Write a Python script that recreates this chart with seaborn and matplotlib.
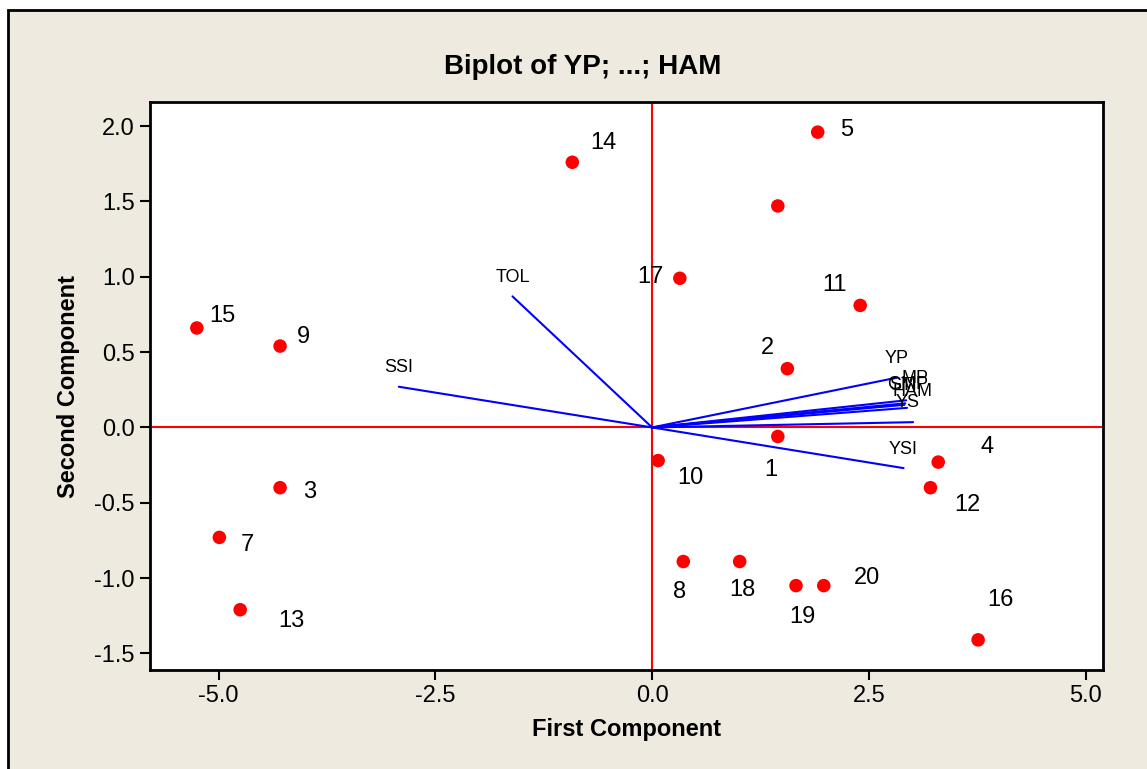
import matplotlib
matplotlib.use("Agg")
import matplotlib.pyplot as plt
import seaborn as sns
import pandas as pd
from matplotlib.patches import Rectangle

# ---- data ----
obs_labels = ["1", "2", "3", "4", "5", "6", "7", "8", "9", "10",
              "11", "12", "13", "14", "15", "16", "17", "18", "19", "20"]
pc1 = [1.45, 1.56, -4.29, 3.30, 1.91, 1.45, -4.99, 0.36, -4.29, 0.07,
       2.40, 3.21, -4.75, -0.92, -5.25, 3.76, 0.32, 1.01, 1.66, 1.98]
pc2 = [-0.06, 0.39, -0.40, -0.23, 1.96, 1.47, -0.73, -0.89, 0.54, -0.22,
       0.81, -0.40, -1.21, 1.76, 0.66, -1.41, 0.99, -0.89, -1.05, -1.05]
show_label = [True, True, True, True, True, False, True, True, True, True,
              True, True, True, True, True, True, True, True, True, True]

var_names = ["YP", "YS", "TOL", "MP", "GMP", "SSI", "STI", "YSI", "HAM"]
load1 = [2.82, 3.01, -1.61, 2.93, 2.92, -2.92, 2.91, 2.90, 2.94]
load2 = [0.33, 0.035, 0.87, 0.18, 0.16, 0.27, 0.15, -0.27, 0.13]

xticks = [-5.0, -2.5, 0.0, 2.5, 5.0]
yticks = [-1.5, -1.0, -0.5, 0.0, 0.5, 1.0, 1.5, 2.0]

# ---- layout (label offsets in pixels, x right / y up) ----
label_offsets = {
    "1": (-7, -34), "2": (-20, 21), "3": (30, -4), "4": (49, 15), "5": (29, 2),
    "7": (28, -8), "8": (-4, -30), "9": (23, 9), "10": (32, -17), "11": (-26, 20),
    "12": (37, -17), "13": (51, -11), "14": (31, 19), "15": (26, 12), "16": (22, 40),
    "17": (-29, 1), "18": (3, -28), "19": (6, -31), "20": (43, 8),
}
var_offsets = {"YS": (-5, 20), "MP": (9, 22), "GMP": (2, 19), "STI": (-1, 19), "HAM": (5, 16)}

df = pd.DataFrame({"pc1": pc1, "pc2": pc2, "label": obs_labels})

sns.set_theme(style="white")
plt.rcParams["font.family"] = ["Liberation Sans", "DejaVu Sans"]
plt.rcParams["text.color"] = "black"
plt.rcParams["axes.labelcolor"] = "black"
plt.rcParams["xtick.color"] = "black"
plt.rcParams["ytick.color"] = "black"

W, H = 1147, 769
fig = plt.figure(figsize=(W / 100, H / 100), dpi=100, facecolor="white")
fig.patches.append(Rectangle((8 / W, -0.05), 1.2, 1 - 10 / H + 0.05,
                             transform=fig.transFigure, facecolor="#EEEAE0",
                             edgecolor="black", linewidth=2, zorder=-10))
ax = fig.add_axes([150 / W, 1 - 670 / H, (1103 - 150) / W, (670 - 102) / H])
ax.set_facecolor("white")

ax.axhline(0, color="red", lw=1.5, zorder=1)
ax.axvline(0, color="red", lw=1.5, zorder=1)

for name, x, y in zip(var_names, load1, load2):
    ax.plot([0, x], [0, y], color="#0000FF", lw=1.5, zorder=2)
    dx, dy = var_offsets.get(name, (0, 19))
    ax.annotate(name, (x, y), xytext=(dx, dy), textcoords="offset pixels",
                ha="center", va="center", fontsize=13, color="black")

sns.scatterplot(data=df, x="pc1", y="pc2", ax=ax, color="#FF0000", s=95,
                edgecolor="none", zorder=3)

for lab, x, y, show in zip(obs_labels, pc1, pc2, show_label):
    if not show:
        continue
    dx, dy = label_offsets[lab]
    ax.annotate(lab, (x, y), xytext=(dx, dy), textcoords="offset pixels",
                ha="center", va="center", fontsize=17, color="black")

ax.set_xlim(-5.79, 5.2)
ax.set_ylim(-1.61, 2.16)
ax.set_xticks(xticks)
ax.set_yticks(yticks)
ax.set_xticklabels([f"{t:.1f}" for t in xticks])
ax.set_yticklabels([f"{t:.1f}" for t in yticks])
ax.tick_params(axis="both", direction="out", length=7, width=1.5, color="black",
               labelsize=17, labelcolor="black", bottom=True, left=True, pad=4)
for s in ax.spines.values():
    s.set_color("black")
    s.set_linewidth(2)

ax.set_xlabel("First Component", fontsize=17, fontweight="bold", labelpad=8, color="black")
ax.set_ylabel("Second Component", fontsize=17, fontweight="bold", labelpad=10, color="black")
fig.text(583 / W, 1 - 67 / H, "Biplot of YP; ...; HAM", ha="center", va="center",
         fontsize=20, fontweight="bold", color="black")

fig.savefig("out.png", dpi=100, facecolor=fig.get_facecolor())
